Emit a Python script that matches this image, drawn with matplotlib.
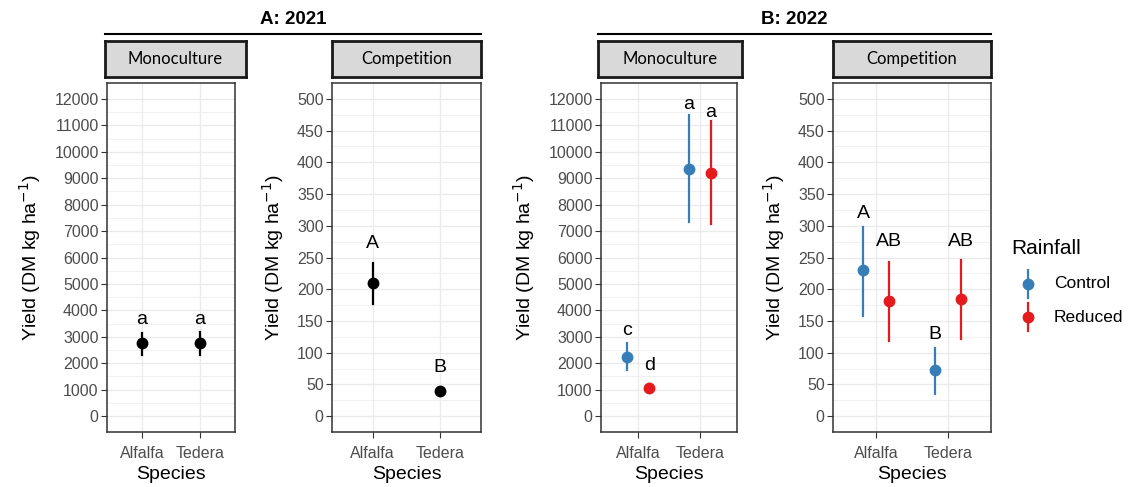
import numpy as np
import matplotlib
matplotlib.use("Agg")
import matplotlib.pyplot as plt
from matplotlib.lines import Line2D

plt.rcParams['font.family'] = ['Liberation Sans', 'DejaVu Sans']

species = ["Alfalfa", "Tedera"]
rainfall = ["Control", "Reduced"]
colors = {"Control": "#377EB8", "Reduced": "#E41A1C"}

# A: 2021 (no rainfall treatment)
a_mono_mean = [2750, 2750]
a_mono_lo = [2300, 2300]
a_mono_hi = [3150, 3200]
a_mono_letters = ["a", "a"]
a_mono_letter_y = [3650, 3650]

a_comp_mean = [210, 40]
a_comp_lo = [177, 35]
a_comp_hi = [242, 45]
a_comp_letters = ["A", "B"]
a_comp_letter_y = [272, 76]

# B: 2022, per species: [Alfalfa, Tedera]
b_mono_mean = {"Control": [2250, 9350], "Reduced": [1080, 9200]}
b_mono_lo = {"Control": [1750, 7350], "Reduced": [950, 7250]}
b_mono_hi = {"Control": [2750, 11380], "Reduced": [1200, 11150]}
b_mono_letters = {"Control": ["c", "a"], "Reduced": ["d", "a"]}
b_mono_letter_y = {"Control": [3250, 11780], "Reduced": [1930, 11470]}

b_comp_mean = {"Control": [230, 72], "Reduced": [181, 184]}
b_comp_lo = {"Control": [158, 35], "Reduced": [119, 122]}
b_comp_hi = {"Control": [298, 107], "Reduced": [243, 246]}
b_comp_letters = {"Control": ["A", "B"], "Reduced": ["AB", "AB"]}
b_comp_letter_y = {"Control": [320, 128], "Reduced": [275, 275]}

W, H = 1131, 487
fig = plt.figure(figsize=(W / 100, H / 100), dpi=100)


def px_axes(x0, x1, y0, y1):
    return fig.add_axes([x0 / W, 1 - y1 / H, (x1 - x0) / W, (y1 - y0) / H])


def px(x, y):
    return x / W, 1 - y / H


def style_axes(ax, big):
    if big:
        ax.set_ylim(-600, 12600)
        ax.set_yticks(np.arange(0, 12001, 1000))
        ax.set_yticks(np.arange(500, 12000, 1000), minor=True)
    else:
        ax.set_ylim(-25, 525)
        ax.set_yticks(np.arange(0, 501, 50))
        ax.set_yticks(np.arange(25, 500, 50), minor=True)
    ax.set_xlim(0.4, 2.6)
    ax.set_xticks([1, 2])
    ax.set_xticklabels(species)
    ax.grid(True, which='major', color='#EBEBEB', lw=1.0)
    ax.grid(True, which='minor', axis='y', color='#EBEBEB', lw=0.5)
    ax.set_axisbelow(True)
    for s in ax.spines.values():
        s.set_color('#333333')
        s.set_linewidth(1.1)
    ax.tick_params(which='major', length=4, color='#333333', labelsize=11.5,
                   labelcolor='#4D4D4D', pad=2)
    ax.tick_params(axis='x', which='major', pad=6)
    ax.tick_params(which='minor', length=0)
    ax.set_xlabel("Species", fontsize=14, labelpad=4)
    ax.set_ylabel("Yield (DM kg ha$^{-1}$)", fontsize=14, labelpad=8)


def strip(x0, x1, text):
    sax = px_axes(x0, x1, 41, 77)
    sax.set_xticks([])
    sax.set_yticks([])
    sax.set_facecolor('#D9D9D9')
    for s in sax.spines.values():
        s.set_color('#1A1A1A')
        s.set_linewidth(2)
    sax.text(0.5, 0.5, text, ha='center', va='center', fontsize=12,
             family=['Lato', 'DejaVu Sans'], transform=sax.transAxes)


def group_title(x0, x1, text):
    fig.add_artist(Line2D([x0 / W, x1 / W], [1 - 34 / H, 1 - 34 / H],
                          color='black', lw=1.5))
    fig.text((x0 + x1) / 2 / W, 1 - 20 / H, text, ha='center', va='center',
             fontsize=13.5, fontweight='bold')


def draw_point(ax, x, m, lo, hi, color):
    ax.plot([x, x], [lo, hi], color=color, lw=1.6, zorder=3)
    ax.plot(x, m, 'o', color=color, ms=7.5, zorder=4)


x = np.arange(1, 3)
dodge = 0.18
lab_fs = 14

# A Monoculture
ax1 = px_axes(107, 235, 83, 432)
style_axes(ax1, True)
for i in range(2):
    draw_point(ax1, x[i], a_mono_mean[i], a_mono_lo[i], a_mono_hi[i], 'black')
    ax1.text(x[i], a_mono_letter_y[i], a_mono_letters[i], ha='center',
             va='center', fontsize=lab_fs)

# A Competition
ax2 = px_axes(332, 481, 83, 432)
style_axes(ax2, False)
for i in range(2):
    draw_point(ax2, x[i], a_comp_mean[i], a_comp_lo[i], a_comp_hi[i], 'black')
    ax2.text(x[i], a_comp_letter_y[i], a_comp_letters[i], ha='center',
             va='center', fontsize=lab_fs)

# B Monoculture
ax3 = px_axes(601, 737, 83, 432)
style_axes(ax3, True)
# B Competition
ax4 = px_axes(833, 991, 83, 432)
style_axes(ax4, False)

for k, r in enumerate(rainfall):
    off = -dodge if k == 0 else dodge
    for i in range(2):
        draw_point(ax3, x[i] + off, b_mono_mean[r][i], b_mono_lo[r][i],
                   b_mono_hi[r][i], colors[r])
        ax3.text(x[i] + off, b_mono_letter_y[r][i], b_mono_letters[r][i],
                 ha='center', va='center', fontsize=lab_fs)
        draw_point(ax4, x[i] + off, b_comp_mean[r][i], b_comp_lo[r][i],
                   b_comp_hi[r][i], colors[r])
        ax4.text(x[i] + off, b_comp_letter_y[r][i], b_comp_letters[r][i],
                 ha='center', va='center', fontsize=lab_fs)

strip(105, 246, "Monoculture")
strip(332, 481, "Competition")
strip(598, 742, "Monoculture")
strip(833, 991, "Competition")

group_title(105, 481, "A: 2021")
group_title(598, 991, "B: 2022")

# legend, drawn by hand so the key shows a point with a vertical range
fig.text(*px(1011, 249), "Rainfall", ha='left', va='center', fontsize=15)
for k, r in enumerate(rainfall):
    ky = 284 + 33 * k
    fig.add_artist(Line2D([1028 / W] * 2, [1 - (ky - 14) / H, 1 - (ky + 14) / H],
                          color=colors[r], lw=1.6))
    fig.add_artist(Line2D([1028 / W], [1 - ky / H], marker='o', ms=7.5,
                          color=colors[r], lw=0))
    fig.text(*px(1054, ky), r, ha='left', va='center', fontsize=12.5)

fig.savefig("out.png", dpi=100)
